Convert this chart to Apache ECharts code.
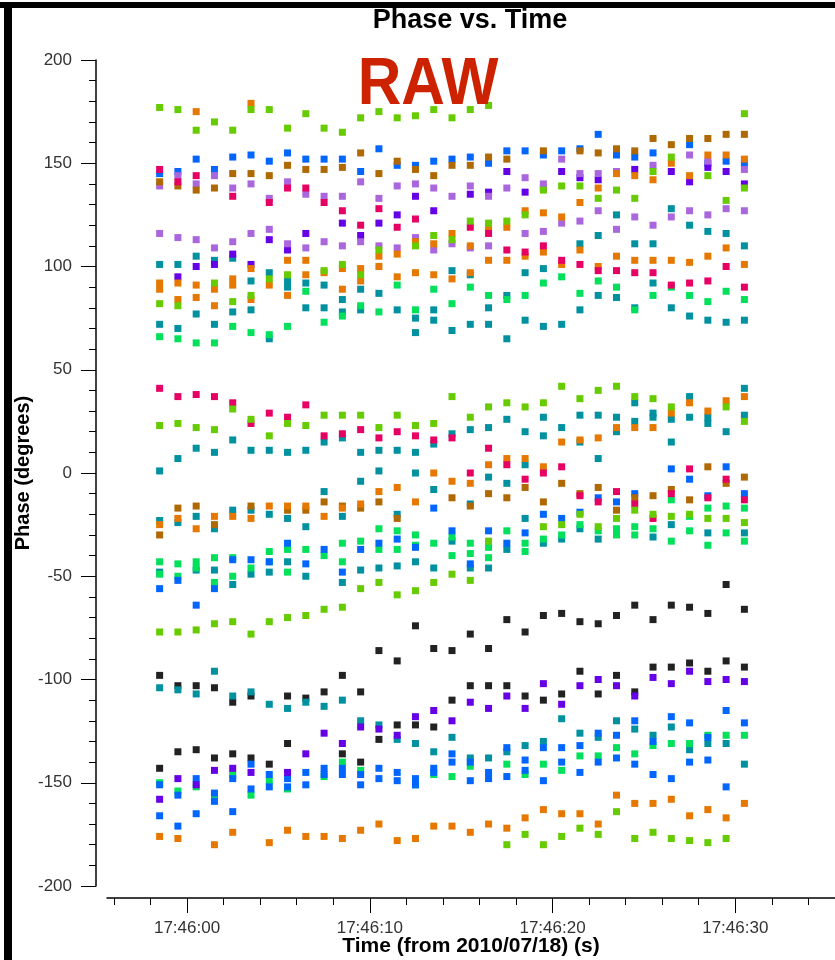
<!DOCTYPE html>
<html>
<head>
<meta charset="utf-8">
<title>Phase vs. Time</title>
<script src="https://cdn.jsdelivr.net/npm/echarts@6/dist/echarts.min.js"></script>
<style>
    html, body { margin: 0; padding: 0; background: #fff; }
    #grafico { width: 835px; height: 960px; }
</style>
</head>
<body>
<div id="grafico"></div>
<script>
// integration times, seconds after 17:46:00
const tiempos = [-1.5, -0.5, 0.5, 1.5, 2.5, 3.5, 4.5, 5.5, 6.5, 7.5, 8.5, 9.5, 10.5, 11.5, 12.5, 13.5, 14.5,
    15.5, 16.5, 17.5, 18.5, 19.5, 20.5, 21.5, 22.5, 23.5, 24.5, 25.5, 26.5, 27.5, 28.5, 29.5, 30.5];

// x axis ticks (s after 17:46:00)
const ticksMayores = [0, 10, 20, 30];
const etiquetasTiempo = ['17:46:00', '17:46:10', '17:46:20', '17:46:30'];
const ticksMenores = [-4, -2, 2, 4, 6, 8, 12, 14, 16, 18, 22, 24, 26, 28, 32, 34, 36, 38];

// phase (deg) of every baseline of each colour, one list per integration
const lima = [
    [177, 82, 23, -77], [176, 81, 24, -77], [166, 22, -76], [170, 92, 21, -73], [166, 83, 31, -72],
    [176, 86, 26, -78], [176, 94, 18, -72], [167, 96, 24, -70], [174, 23, -69], [167, 98, 28, -66],
    [165, 101, 28, -65], [172, 96, 28, -56], [175, 108, 22, -53], [172, 28, -59], [173, 110, 23, -57],
    [176, 115, 24, -53], [172, 113, 37, -49], [176, 122, 27, -52], [178, 121, 32, -33], [122, 34, -180],
    [125, 32, -175], [137, 34, -26, -180], [139, 42, -25, -176], [139, 36, -20, -172], [133, 40, -26, -175],
    [137, 42, -22, -164], [133, 37, -18, -177], [146, 36, -20, -174], [153, 32, -21, -177], [-20, -178],
    [144, -22, -179], [132, 32, -22, -177], [174, 138, 25, -24]
];
const verde = [
    [66, -43, -49, -150], [65, -44, -50, -154], [63, -43, -46, -152], [63, -41, -53, -157], [71, -41, -50, -146],
    [68, -46, -156], [67, -38, -43, -149], [71, -37, -48, -153], [88, -37], [73, -40, -147],
    [76, -34, -43, -140], [81, -33, -144], [78, -27, -37], [91, -28, -37], [79, -30, -35, -151],
    [89, -34, -146], [82, -31, -40, -147], [90, -34, -39, -142], [86, -36, -41], [84, -28, -141],
    [86, -34, -38, -146], [92, -32, -141], [95, -30, -144], [87, -25, -137], [93, -28, -137],
    [90, -27, -30, -133], [79, -26, -30, -136], [86, -27, -132], [90, -13, -33, -131], [86, -21, -28, -131],
    [83, -17, -35, -127], [88, -16, -29, -127], [84, -17, -33, -127]
];
const naranja = [
    [92, 89, -25, -176], [92, 84, -22, -177], [175, 91, 85, -27], [89, 81, -21, -180], [94, 91, -21, -174],
    [179, 99, 84, -22], [91, -16, -179], [103, 86, -16, -173], [103, 96, -16, -176], [97, -21, -176],
    [99, 89, -17, -177], [99, 93, -15, -173], [105, 100, -9, -170], [106, 95, -7, -178], [112, 97, -14, -177],
    [111, 96, 0, -171], [116, 94, -4, -171], [110, 97, -5, -174], [119, 103, 4, -170], [119, 103, 7, -172],
    [127, 105, 7, -167], [126, 107, 3, -163], [124, 101, 15, -165], [131, 108, 16, -165], [138, 100, 17, -170],
    [145, 105, 22, -156], [144, 103, 22, -160], [142, 103, 22, -160], [150, 103, 29, -158], [144, 102, 34, -166],
    [154, 105, 30, -163], [154, 109, 35, -167], [152, 101, 37, -160]
];
const marron = [
    [141, -30], [139, -17], [137, -16], [138, -25], [145], [145, -16], [144], [149, -18], [147, -18], [147, -14],
    [148, -16], [155, -17], [145, -14], [151, -22], [147], [144], [149, -12], [149, -16], [153, -10], [152, -12],
    [-7], [156, -14], [-5], [156, -10], [155, -7], [157, -18], [156, -12], [162, -11], [159, -8], [162, -13],
    [162, 3], [164, -5], [164, -2]
];
const azul = [
    [145, -56, -151, -166], [146, -52, -156, -171], [152, -64, -148, -165], [147, -56, -155, -159], [153, -42, -148, -164],
    [154, -42, -141, -153], [151, -43, -146, -152], [155, -34, -148, -152], [152, -44, -145, -151], [152, -37, -143, -146],
    [152, -48, -143, -146], [146, -37, -146, -151], [157, -34, -143, -148], [149, -32, -145, -149], [149, -36, -148, -151],
    [151, -17, -143, -145], [152, -28, -136, -140], [153, -44, -140, -149], [150, -28, -145, -148], [156, -34, -133, -147],
    [156, -29, -139, -144], [154, -20, -133, -149], [156, -22, -133, -140], [157, -19, -132, -145], [164, -12, -126, -140],
    [154, -14, -127, -138], [153, -10, -120, -141], [155, -130, -146], [2, -118, -148], [159, -3, -121, -140],
    [150, -11, -128, -139], [151, 3, -115, -152], [150, -10, -121]
];
const rosa = [
    [147, 41], [141, 37], [144, 38], [37], [134, 34], [24], [131, 29], [138, 27], [138, 33], [131, 18],
    [127, 19], [120, 21], [128, 17], [119, 20], [123, 18], [16], [17], [119, 0], [116, 12], [108, 4],
    [107, -3], [110, 0], [103, 3], [101, -11], [98, -14], [98, -9], [97, -15], [97, -22], [91, -10], [92, 2],
    [93, -12], [100, -3], [90, -13]
];
const lavanda = [
    [139, 116], [144, 114], [140, 113], [144, 109], [138, 112], [140, 116], [133, 118], [141, 111], [135, 109], [134, 112],
    [134, 110], [141, 112], [133, 110], [139, 109], [140, 114], [138, 108], [134, 111], [139, 109], [134, 110], [138],
    [143, 116], [140, 117], [152, 121], [145, 122], [145, 127], [146, 118], [124], [149, 120], [124], [154, 127],
    [151, 125], [128], [147, 127]
];
const violeta = [
    [-158], [95, -148], [100, -151], [101, -144], [106, -143], [101, -145], [113], [108, -145], [116, -136], [-126],
    [121, -131], [115, -123], [121, -124], [125, -127], [134, -118], [127, -115], [-120], [135, -111], [136, -114], [146, -108],
    [136, -114], [138, -102], [146, -112], [143, -103], [142, -100], [-103], [147, -108], [-99], [146, -102], [141, -96],
    [148, -101], [146, -100], [140, -101]
];
const turquesa = [
    [101, 72, 1, -23, -48, -104], [101, 70, 7, -24, -105], [105, 77, 12, -21, -47, -107], [103, 72, 10, -27, -47, -96],
    [104, 78, 16, -18, -54, -108], [93, 79, 11, -18, -49, -106], [97, 65, 11, -20, -48, -112], [93, 90, 10, -22, -43, -114],
    [92, 80, 11, -26, -50, -111], [91, 80, 15, -9, -113], [84, 78, 17, -21, -53, -110], [89, 79, 10, -4, -47, -120],
    [87, 11, 1, -46, -122], [79, 11, -20, -45, -129], [75, 68, 10, 0, -43, -131], [79, 74, 14, -8, -46, -135],
    [98, 69, 19, -33, -128], [96, 72, 21, -15, -46, -138], [80, 72, 22, -2, -46, -138], [86, 65, 26, -5, -37, -135],
    [97, 74, 20, 4, -22, -132], [99, 71, 27, 18, -34, -130], [72, 22, -32, -119], [111, 79, 28, 15, -27, -126],
    [115, 86, 28, 7, -32, -128], [125, 85, 27, 20, -120], [111, 80, 34, 25, -124], [111, 92, 29, 27, -31, -127],
    [128, 80, 26, 15, -25, -123], [120, 76, 37, 27, -134], [117, 74, 27, 24, -29, -131], [116, 73, 20, -131],
    [110, 74, 41, 28, -29, -141]
];
const negro = [
    [-98, -143], [-103, -135], [-103, -134], [-104, -138], [-111, -136], [-108, -138], [-141], [-108, -131], [-109], [-106],
    [-98, -136], [-106, -140], [-86, -129], [-91, -122], [-74, -122], [-85, -123], [-86, -110], [-78, -103], [-85, -103], [-71, -103],
    [-77, -108], [-69, -110], [-68, -107], [-72, -96], [-73, -107], [-69, -98], [-64, -106], [-71, -94], [-64, -94], [-65, -92],
    [-68, -96], [-54, -91], [-66, -94]
];

const grupos = [
    { nombre: 'negro', color: '#222222', valores: negro },
    { nombre: 'turquesa', color: '#0091a0', valores: turquesa },
    { nombre: 'verde', color: '#00e05a', valores: verde },
    { nombre: 'azul', color: '#0066ff', valores: azul },
    { nombre: 'violeta', color: '#6600e6', valores: violeta },
    { nombre: 'lavanda', color: '#aa66dd', valores: lavanda },
    { nombre: 'marron', color: '#b06800', valores: marron },
    { nombre: 'naranja', color: '#e67800', valores: naranja },
    { nombre: 'rosa', color: '#e60064', valores: rosa },
    { nombre: 'lima', color: '#66cc00', valores: lima }
];

const fuente = 'Liberation Sans, Arial, sans-serif';

function puntos(valores) {
    const datos = [];
    valores.forEach((columna, i) => {
        columna.forEach(fase => datos.push([tiempos[i], fase]));
    });
    return datos;
}

function etiquetaTiempo(valor) {
    const i = ticksMayores.findIndex(t => Math.abs(t - valor) < 1e-6);
    return i >= 0 ? etiquetasTiempo[i] : '';
}

const series = grupos.map(g => ({
    name: g.nombre,
    type: 'scatter',
    symbol: 'rect',
    symbolSize: 7,
    xAxisIndex: 0,
    yAxisIndex: 0,
    itemStyle: { color: g.color, opacity: 1 },
    data: puntos(g.valores)
}));

const chart = echarts.init(document.getElementById('grafico'));

const option = {
    animation: false,
    backgroundColor: '#ffffff',
    // the time axis runs past the right edge of the picture
    grid: { left: 107, top: 60, width: 811, height: 826, outerBoundsMode: 'none', containLabel: false },
    xAxis: [
        {
            type: 'value', min: -4.38, max: 40, position: 'bottom', offset: 12,
            axisLine: { show: true, onZero: false, lineStyle: { color: '#000', width: 1.5 } },
            axisTick: { show: true, customValues: ticksMenores, length: 7, lineStyle: { color: '#000' } },
            axisLabel: {
                customValues: ticksMayores, formatter: etiquetaTiempo, margin: 22,
                fontSize: 17, color: '#333', fontFamily: fuente
            },
            splitLine: { show: false }
        },
        {
            type: 'value', min: -4.38, max: 40, position: 'bottom', offset: 12,
            axisLine: { show: false, onZero: false },
            axisTick: { show: true, customValues: ticksMayores, length: 15, lineStyle: { color: '#000' } },
            axisLabel: { show: false },
            splitLine: { show: false }
        }
    ],
    yAxis: {
        type: 'value', min: -200, max: 200, interval: 50, offset: 11,
        axisLine: { show: true, onZero: false, lineStyle: { color: '#000', width: 1.5 } },
        axisTick: { show: true, length: 15, lineStyle: { color: '#000' } },
        minorTick: { show: true, splitNumber: 5, length: 7, lineStyle: { color: '#000' } },
        axisLabel: { margin: 24, fontSize: 17, color: '#333', fontFamily: fuente },
        splitLine: { show: false }
    },
    graphic: [
        { type: 'rect', shape: { x: 0, y: 2, width: 835, height: 6 }, style: { fill: '#000' }, z: 100 },
        { type: 'rect', shape: { x: 4, y: 2, width: 8, height: 958 }, style: { fill: '#000' }, z: 100 },
        {
            type: 'text', x: 470, y: 21, z: 100,
            style: { text: 'Phase vs. Time', font: 'bold 27px ' + fuente, fill: '#000', align: 'center', verticalAlign: 'middle' }
        },
        {
            type: 'text', x: 428, y: 86, scaleX: 0.9, z: 100,
            style: { text: 'RAW', font: 'bold 67px ' + fuente, fill: '#cc2200', align: 'center', verticalAlign: 'middle' }
        },
        {
            type: 'text', x: 471, y: 946, z: 100,
            style: { text: 'Time (from 2010/07/18) (s)', font: 'bold 21px ' + fuente, fill: '#000', align: 'center', verticalAlign: 'middle' }
        },
        {
            type: 'text', x: 23, y: 473, rotation: Math.PI / 2, z: 100,
            style: { text: 'Phase (degrees)', font: 'bold 20px ' + fuente, fill: '#000', align: 'center', verticalAlign: 'middle' }
        }
    ],
    series: series
};

chart.setOption(option);
</script>
</body>
</html>
